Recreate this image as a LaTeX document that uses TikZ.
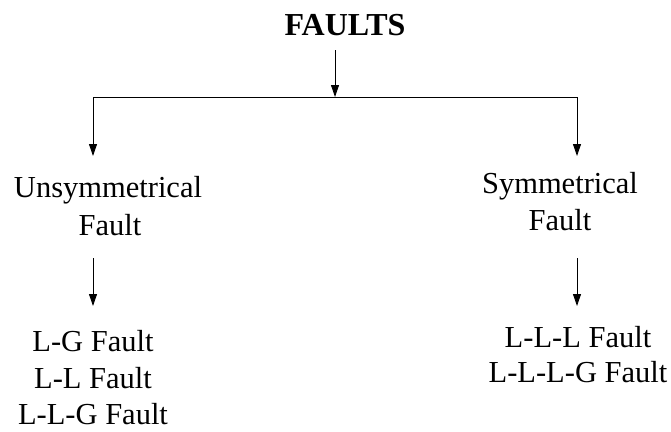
\documentclass[tikz,border=0pt]{standalone}
\usepackage{fontspec}
\setmainfont{Liberation Serif}
\usetikzlibrary{arrows.meta}
\tikzset{
  lbl/.style={anchor=base, inner sep=0pt, font=\fontsize{30.5}{36}\selectfont},
  ttl/.style={anchor=base, inner sep=0pt, font=\fontsize{32}{36}\selectfont\bfseries},
  conn/.style={line width=0.9pt, draw=black},
  arr/.style={conn, -{Triangle[length=12pt,width=8pt]}}
}
\begin{document}
\begin{tikzpicture}[x=1pt,y=-1pt]
\useasboundingbox (0,0) rectangle (671,431);
% title
\node[ttl] (title) at (345,35) {FAULTS};
% branch coordinates
\coordinate (ttop) at (335,50);
\coordinate (tbot) at (335,97);
\coordinate (lcorner) at (93,97);
\coordinate (rcorner) at (577,97);
\coordinate (lend) at (93,156);
\coordinate (rend) at (577,156);
\coordinate (la1) at (93,258);
\coordinate (la2) at (93,306);
\coordinate (ra1) at (577,258);
\coordinate (ra2) at (577,306);
% left branch text
\node[lbl] (uns1) at (108,197) {Unsymmetrical};
\node[lbl] (uns2) at (110,235) {Fault};
\node[lbl] (lg) at (93,351) {L-G Fault};
\node[lbl] (ll) at (93,388) {L-L Fault};
\node[lbl] (llg) at (93,424) {L-L-G Fault};
% right branch text
\node[lbl] (sym1) at (560,193) {Symmetrical};
\node[lbl] (sym2) at (560,230) {Fault};
\node[lbl] (lll) at (578,347) {L-L-L Fault};
\node[lbl] (lllg) at (578,382) {L-L-L-G Fault};
% connectors
\draw[arr] (ttop) -- (tbot);
\draw[conn] (lcorner) -- (rcorner);
\draw[arr] (lcorner) -- (lend);
\draw[arr] (rcorner) -- (rend);
\draw[arr] (la1) -- (la2);
\draw[arr] (ra1) -- (ra2);
\end{tikzpicture}
\end{document}
